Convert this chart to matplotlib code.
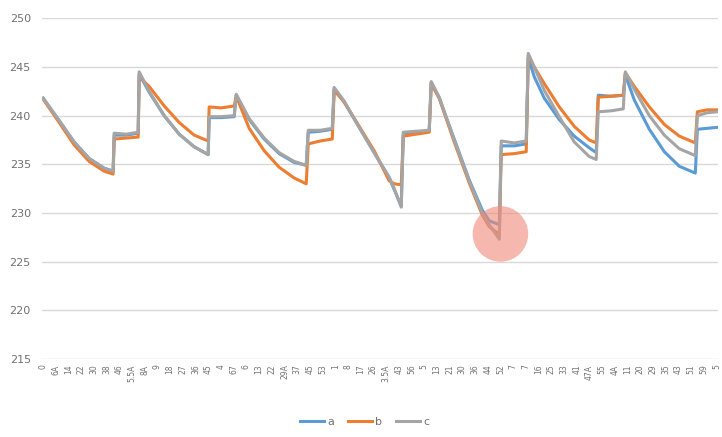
import matplotlib
matplotlib.use("Agg")
import matplotlib.pyplot as plt

# 横轴位置（以刻度标签间隔为单位）
t = [0.0, 1.26, 2.44, 3.62, 4.80, 5.51, 5.59, 6.54, 7.48,
     7.56, 8.35, 9.53, 10.71, 11.89, 12.99, 13.07, 14.02, 15.04,
     15.20, 16.22, 17.40, 18.58, 19.76, 20.71, 20.87, 21.81, 22.76,
     22.91, 23.70, 24.88, 26.06, 27.24, 27.64, 28.19, 28.35, 29.37, 30.39,
     30.55, 31.18, 32.36, 33.54, 34.57, 35.12, 35.91, 36.06, 37.09, 38.03,
     38.19, 38.66, 39.45, 40.63, 41.81, 42.99, 43.54, 43.70, 44.72, 45.67,
     45.83, 46.54, 47.72, 48.90, 50.08, 51.34, 51.50, 52.28, 53.07]

a = [241.8, 239.5, 237.3, 235.6, 234.6, 234.3, 238.0, 238.0, 238.2,
     244.3, 242.4, 240.0, 238.1, 236.8, 236.0, 239.8, 239.8, 239.9,
     242.1, 239.6, 237.6, 236.1, 235.2, 234.9, 238.3, 238.4, 238.6,
     242.8, 241.4, 238.8, 236.2, 233.6, 232.4, 230.7, 238.1, 238.2, 238.4,
     243.4, 241.8, 237.6, 233.4, 230.3, 229.2, 228.8, 236.9, 236.9, 237.1,
     246.0, 244.0, 241.8, 239.6, 237.9, 236.7, 236.2, 242.1, 242.0, 242.1,
     244.2, 241.6, 238.6, 236.3, 234.8, 234.1, 238.6, 238.7, 238.8]

b = [241.7, 239.3, 237.0, 235.3, 234.3, 234.0, 237.6, 237.7, 237.8,
     244.0, 243.0, 241.0, 239.3, 238.0, 237.4, 240.9, 240.8, 241.0,
     242.0, 238.7, 236.4, 234.7, 233.6, 233.0, 237.1, 237.4, 237.6,
     242.6, 241.4, 238.9, 236.4, 233.3, 233.0, 232.9, 237.9, 238.1, 238.3,
     243.3, 241.8, 237.3, 233.1, 229.8, 228.6, 227.8, 236.0, 236.1, 236.3,
     246.2, 245.0, 243.3, 240.9, 238.9, 237.5, 237.2, 241.9, 242.0, 242.1,
     244.4, 243.0, 240.9, 239.1, 237.9, 237.2, 240.4, 240.6, 240.6]

c = [241.8, 239.5, 237.3, 235.6, 234.6, 234.3, 238.2, 238.1, 238.3,
     244.5, 242.5, 240.0, 238.1, 236.8, 236.0, 239.9, 239.9, 240.0,
     242.2, 239.7, 237.7, 236.2, 235.3, 234.9, 238.5, 238.5, 238.7,
     242.9, 241.5, 238.8, 236.2, 233.7, 232.5, 230.6, 238.3, 238.4, 238.5,
     243.5, 241.9, 237.5, 233.3, 230.0, 228.8, 227.3, 237.4, 237.2, 237.4,
     246.4, 245.0, 242.6, 239.9, 237.3, 235.8, 235.5, 240.4, 240.5, 240.7,
     244.5, 242.7, 240.0, 238.0, 236.6, 235.9, 240.0, 240.3, 240.4]

xlabels = ["0", "6A", "14", "22", "30", "38", "46", "5.5A", "8A", "9", "18",
           "27", "36", "45", "4", "67", "6", "13", "22", "29A", "37", "45",
           "53", "1", "8", "17", "26", "3.5A", "43", "56", "5", "13", "21",
           "30", "36", "44", "52", "7", "7", "16", "25", "33", "41", "47A",
           "55", "4A", "11", "20", "29", "35", "43", "51", "59", "5"]

# 红圈标记位置
mark_t, mark_v = 36.0, 227.85

fig = plt.figure(figsize=(7.22, 4.37), dpi=100)
ax = fig.add_axes([0.058, 0.1785, 0.936, 0.7795])

ax.plot(t, a, color="#5B9BD5", lw=2.2, label="a")
ax.plot(t, b, color="#ED7D31", lw=2.2, label="b")
ax.plot(t, c, color="#A5A5A5", lw=2.2, label="c")
ax.scatter([mark_t], [mark_v], s=1600, color="#F08A78", alpha=0.6,
           edgecolors="none", zorder=5)

ax.set_ylim(215, 250)
ax.set_xlim(-0.1, 53.1)
ax.set_yticks(range(215, 251, 5))
ax.set_xticks(range(len(xlabels)))
ax.set_xticklabels(xlabels, rotation=90, fontsize=5.5, color="#707070")
ax.tick_params(axis="y", labelsize=8, colors="#707070", length=0, pad=8)
ax.tick_params(axis="x", length=0, pad=4)
ax.grid(axis="y", color="#D9D9D9", lw=1)
ax.set_axisbelow(True)
for s in ax.spines.values():
    s.set_visible(False)

fig.legend(loc="lower center", bbox_to_anchor=(0.505, 0.0), ncol=3,
           frameon=False, fontsize=8, handlelength=2.2, columnspacing=1.2,
           handletextpad=0.3, labelcolor="#707070")

fig.savefig("out.png", dpi=100)
